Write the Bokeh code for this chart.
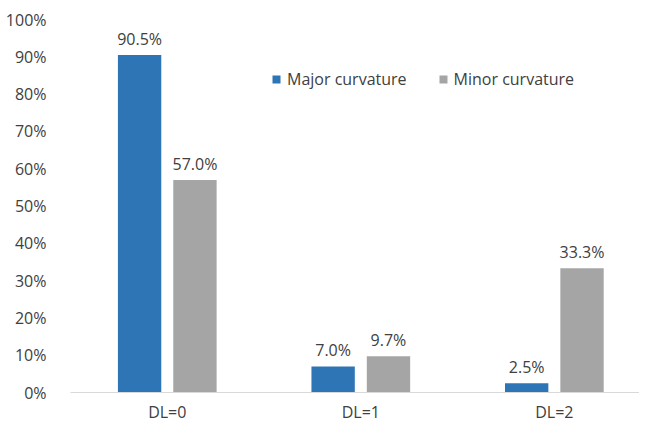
from bokeh.plotting import figure
from bokeh.models import ColumnDataSource, Range1d, FixedTicker, Legend, LegendItem, LabelSet, CustomJSTickFormatter
from bokeh.embed import file_html
from bokeh.resources import INLINE
from bokeh.core.properties import value

categories = ["DL=0", "DL=1", "DL=2"]
major = [90.5, 7.0, 2.5]
minor = [57.0, 9.7, 33.3]
y_ticks = [0, 10, 20, 30, 40, 50, 60, 70, 80, 90, 100]

idx = list(range(len(categories)))
off = 0.143
w = 0.224

src_major = ColumnDataSource(dict(x=[i - off for i in idx], top=major,
                                  lab=["%.1f%%" % v for v in major]))
src_minor = ColumnDataSource(dict(x=[i + off for i in idx], top=minor,
                                  lab=["%.1f%%" % v for v in minor]))

p = figure(width=639, height=425, output_backend="svg", toolbar_location=None,
           x_range=Range1d(-0.5, 2.44), y_range=Range1d(0, 100),
           min_border_left=70, min_border_right=0, min_border_top=19, min_border_bottom=30)
p.outline_line_color = None
p.grid.visible = False
p.background_fill_color = "white"

FONT = "Open Sans"
TXT = "#404040"

r1 = p.vbar(x="x", top="top", width=w, source=src_major, color="#2E75B6", line_color=None)
r2 = p.vbar(x="x", top="top", width=w, source=src_minor, color="#A5A5A5", line_color=None)

for s in (src_major, src_minor):
    p.add_layout(LabelSet(x="x", y="top", text="lab", source=s, text_align="center",
                          text_baseline="alphabetic", y_offset=10, text_font=value(FONT),
                          text_font_size="16px", text_color=TXT))

p.xaxis.ticker = FixedTicker(ticks=idx)
p.xaxis.major_label_overrides = {i: c for i, c in zip(idx, categories)}
p.xaxis.axis_line_color = "#D9D9D9"
p.xaxis.major_tick_line_color = None
p.xaxis.minor_tick_line_color = None
p.xaxis.major_label_standoff = 2
p.xaxis.major_label_text_font = FONT
p.xaxis.major_label_text_font_size = "16px"
p.xaxis.major_label_text_color = TXT

p.yaxis.ticker = FixedTicker(ticks=y_ticks)
p.yaxis.formatter = CustomJSTickFormatter(code="return tick + '%';")
p.yaxis.axis_line_color = None
p.yaxis.major_tick_line_color = None
p.yaxis.minor_tick_line_color = None
p.yaxis.major_label_standoff = 18
p.yaxis.major_label_text_font = FONT
p.yaxis.major_label_text_font_size = "16px"
p.yaxis.major_label_text_color = TXT

legend = Legend(items=[LegendItem(label="Major curvature", renderers=[r1]),
                       LegendItem(label="Minor curvature", renderers=[r2])],
                orientation="horizontal", location=(201, 302),
                glyph_width=10, glyph_height=10, label_standoff=6, spacing=31,
                padding=0, margin=0, border_line_color=None, background_fill_alpha=0,
                label_text_font=FONT, label_text_font_size="16px", label_text_color=TXT)
p.add_layout(legend)

open("out.html", "w").write(file_html(p, INLINE))
